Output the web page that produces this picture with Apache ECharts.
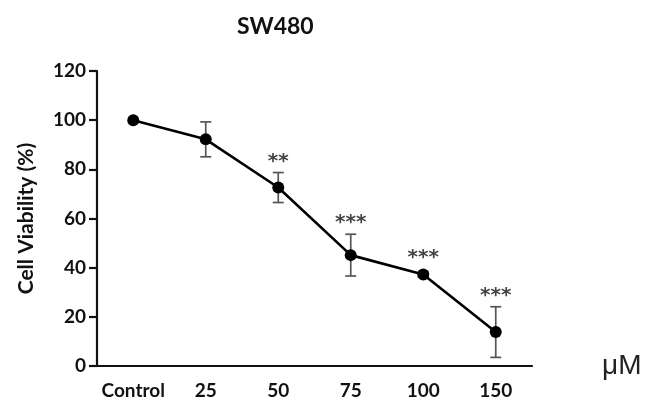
<!DOCTYPE html>
<html>
<head>
<meta charset="utf-8">
<script src="https://cdn.jsdelivr.net/npm/echarts@6/dist/echarts.min.js"></script>
<style>
  html, body { margin: 0; padding: 0; background: #fff; }
  #chart { width: 648px; height: 401px; }
</style>
</head>
<body>
<div id="chart"></div>
<script>
// doses on the x axis
const categories = ["Control", "25", "50", "75", "100", "150"];
// mean viability (%) and SD
const viability = [100, 92.2, 72.6, 45.1, 37.2, 13.8];
const errorSD = [0, 7.1, 6.1, 8.5, 1.0, 10.3];
// significance marks above each point
const significance = ["", "", "**", "***", "***", "***"];
const yTicks = { min: 0, max: 120, interval: 20 };

const font = "Lato, 'Open Sans', sans-serif";
const chart = echarts.init(document.getElementById("chart"));

const errData = viability.map((v, i) => [i, v, errorSD[i], significance[i]]);

chart.setOption({
    animation: false,
    title: {
        text: "SW480",
        left: 232,
        top: 10,
        textStyle: { fontFamily: font, fontSize: 23, fontWeight: "bold", color: "#111" },
    },
    grid: { left: 97, right: 116, top: 71, bottom: 35, outerBoundsMode: "none" },
    xAxis: {
        type: "category",
        data: categories,
        boundaryGap: true,
        name: "μM",
        nameLocation: "end",
        nameGap: 70,
        nameTextStyle: { fontFamily: "'Liberation Sans', sans-serif", fontSize: 28, color: "#222", verticalAlign: "middle", padding: [4, 0, 0, 0] },
        axisLine: { lineStyle: { color: "#111", width: 2.2 } },
        axisTick: { alignWithLabel: true, interval: 0, length: 7, lineStyle: { color: "#111", width: 2.2 } },
        axisLabel: { interval: 0, hideOverlap: false, fontFamily: font, fontSize: 19, fontWeight: "bold", color: "#111", margin: 15 },
        splitLine: { show: false },
    },
    yAxis: {
        type: "value",
        min: yTicks.min,
        max: yTicks.max,
        interval: yTicks.interval,
        name: "Cell Viability (%)",
        nameLocation: "middle",
        nameGap: 60,
        nameTextStyle: { fontFamily: font, fontSize: 21, fontWeight: "bold", color: "#111" },
        axisLine: { show: true, lineStyle: { color: "#111", width: 2.2 } },
        axisTick: { show: true, length: 8, lineStyle: { color: "#111", width: 2.2 } },
        axisLabel: { fontFamily: font, fontSize: 19, fontWeight: "bold", color: "#111", margin: 11 },
        splitLine: { show: false },
    },
    series: [
        {
            // error bars + asterisks
            type: "custom",
            z: 1,
            data: errData,
            renderItem: function (params, api) {
                const i = api.value(0);
                const v = api.value(1);
                const sd = api.value(2);
                const star = significance[i];
                const pt = api.coord([i, v]);
                const top = api.coord([i, v + sd]);
                const bot = api.coord([i, v - sd]);
                const cap = 5.5;
                const style = { stroke: "#555", lineWidth: 1.7 };
                const children = [];
                if (sd > 0) {
                    children.push(
                        { type: "line", shape: { x1: pt[0], y1: top[1], x2: pt[0], y2: bot[1] }, style: style },
                        { type: "line", shape: { x1: pt[0] - cap, y1: top[1], x2: pt[0] + cap, y2: top[1] }, style: style },
                        { type: "line", shape: { x1: pt[0] - cap, y1: bot[1], x2: pt[0] + cap, y2: bot[1] }, style: style }
                    );
                }
                if (star) {
                    const anchor = Math.min(top[1], pt[1] - 6) - 11;
                    children.push({
                        type: "text",
                        style: {
                            text: star,
                            x: pt[0],
                            y: anchor,
                            align: "center",
                            verticalAlign: "middle",
                            fill: "#444",
                            font: "bold 20px 'DejaVu Sans', sans-serif",
                        },
                    });
                }
                return { type: "group", children: children };
            },
        },
        {
            type: "line",
            z: 3,
            data: viability,
            symbol: "circle",
            symbolSize: 12,
            lineStyle: { color: "#000", width: 2.6 },
            itemStyle: { color: "#000" },
        },
    ],
});
</script>
</body>
</html>
